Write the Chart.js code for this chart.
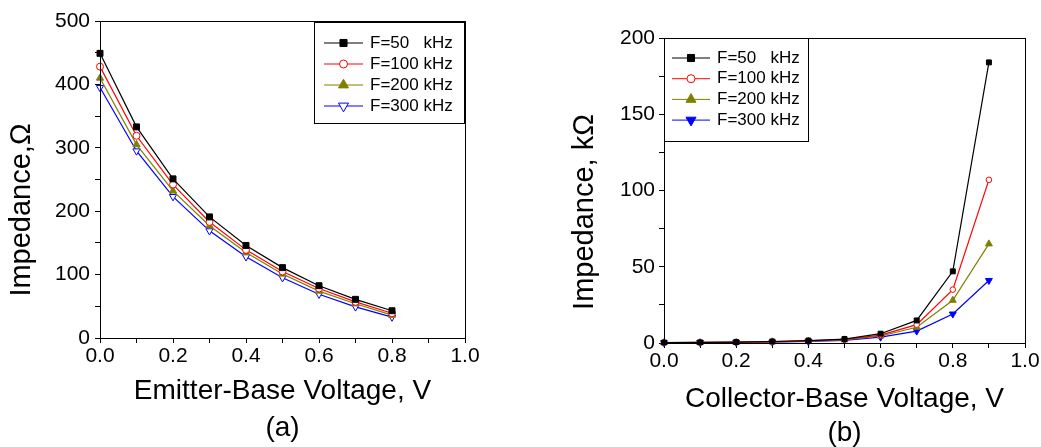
<!DOCTYPE html>
<html>
<head>
	<meta charset="UTF-8">
	<title>Impedance vs voltage</title>
	<script src="https://cdn.jsdelivr.net/npm/chart.js@4/dist/chart.umd.min.js"></script>
	<style>
		body {
			margin:0;
			padding:0;
			overflow: hidden;
			background:#fff;
		}
		canvas {
			position:absolute;
			top:0;
		}
	</style>
</head>
<body>
	<canvas id="chartA" width="520" height="450" style="left:0px"></canvas>
	<canvas id="chartB" width="521" height="451" style="left:520px"></canvas>
	<script>
		// (a) emitter-base voltage, impedance in ohm
		const voltsA = [0, 0.1, 0.2, 0.3, 0.4, 0.5, 0.6, 0.7, 0.8];
		const zA50  = [449, 333, 251, 191, 146, 111, 82.5, 61, 43];
		const zA100 = [428, 319, 242, 183, 139, 105, 78, 57, 39];
		const zA200 = [410, 305, 232, 177, 135, 101, 74, 54, 36];
		const zA300 = [395, 295, 223, 169, 128, 95, 69, 49, 33];

		// (b) collector-base voltage, impedance in kohm
		const voltsB = [0, 0.1, 0.2, 0.3, 0.4, 0.5, 0.6, 0.7, 0.8, 0.9];
		const zB50  = [0.3, 0.4, 0.6, 1.0, 1.6, 2.6, 6.1, 14.8, 47, 184];
		const zB100 = [0.3, 0.4, 0.5, 0.9, 1.4, 2.3, 5.2, 12, 35, 107];
		const zB200 = [0.3, 0.3, 0.5, 0.8, 1.3, 2.1, 4.6, 10.3, 28, 65];
		const zB300 = [0.2, 0.3, 0.4, 0.6, 1.0, 1.7, 3.8, 7.8, 19, 41];

		const seriesNames = ['F=50   kHz', 'F=100 kHz', 'F=200 kHz', 'F=300 kHz'];

		const FONT = "'Liberation Sans', Arial, sans-serif";

		function pts(xs, ys){
			return xs.map((x, i) => ({x: x, y: ys[i]}));
		}

		function marker(ctx, style, rot, r, x, y, fill, stroke){
			ctx.save();
			ctx.fillStyle = fill;
			ctx.strokeStyle = stroke;
			ctx.lineWidth = 1;
			ctx.beginPath();
			if(style === 'rect'){
				const s = Math.SQRT1_2 * r;
				ctx.rect(x - s, y - s, 2*s, 2*s);
			} else if(style === 'circle'){
				ctx.arc(x, y, r, 0, Math.PI*2);
			} else {
				let a = rot * Math.PI / 180;
				ctx.moveTo(x + Math.sin(a)*r, y - Math.cos(a)*r);
				for(let k=0;k<2;k++){
					a += Math.PI*2/3;
					ctx.lineTo(x + Math.sin(a)*r, y - Math.cos(a)*r);
				}
				ctx.closePath();
			}
			ctx.fill();
			ctx.stroke();
			ctx.restore();
		}

		// frame around plot, rotated y title, boxed legend inside plot
		const extras = {
			id:'extras',
			afterDraw(chart, args, o){
				const ctx = chart.ctx;
				const a = chart.chartArea;
				ctx.save();
				ctx.strokeStyle = '#000';
				ctx.lineWidth = 1;
				ctx.strokeRect(Math.round(a.left)+0.5, Math.round(a.top)+0.5, Math.round(a.right-a.left), Math.round(a.bottom-a.top));

				ctx.translate(o.yTitleX, o.yTitleY);
				ctx.rotate(-Math.PI/2);
				ctx.font = '29px ' + FONT;
				ctx.fillStyle = '#000';
				ctx.textAlign = 'center';
				ctx.textBaseline = 'middle';
				ctx.fillText(o.yTitle, 0, 0);
				ctx.restore();

				const L = o.legend;
				ctx.save();
				ctx.fillStyle = '#fff';
				ctx.fillRect(L.x, L.y, L.w, L.h);
				ctx.strokeStyle = '#000';
				ctx.lineWidth = 1;
				ctx.strokeRect(L.x+0.5, L.y+0.5, L.w, L.h);
				ctx.font = '17px ' + FONT;
				ctx.textBaseline = 'middle';
				ctx.textAlign = 'left';
				chart.data.datasets.forEach((ds, i) => {
					const y = L.row0 + i*L.step;
					ctx.strokeStyle = ds.borderColor;
					ctx.lineWidth = 1;
					ctx.beginPath();
					ctx.moveTo(L.x0, y);
					ctx.lineTo(L.x1, y);
					ctx.stroke();
					const r = L.radius[i];
					marker(ctx, ds.pointStyle, ds.pointRotation || 0, r, (L.x0+L.x1)/2, y, ds.pointBackgroundColor, ds.pointBorderColor);
					ctx.fillStyle = '#000';
					ctx.fillText(ds.label, L.tx, y);
				});
				ctx.restore();
			}
		};

		function makeChart(id, xs, ys, styles, cfg){
			const colors = ['#000000', '#ff0000', '#808000', '#0000ff'];
			const datasets = ys.map((s, i) => ({
				label: seriesNames[i],
				data: pts(xs, s),
				borderColor: colors[i],
				borderWidth: 1.2,
				fill: false,
				tension: 0,
				clip: false,
				pointStyle: styles[i].style,
				pointRotation: styles[i].rot || 0,
				pointRadius: styles[i].r,
				pointBackgroundColor: styles[i].filled ? colors[i] : '#ffffff',
				pointBorderColor: colors[i],
				pointBorderWidth: 1
			}));
			const tickFont = {family: FONT, size: 21};
			new Chart(document.getElementById(id).getContext('2d'), {
				type: 'line',
				data: {datasets: datasets},
				options: {
					responsive: false,
					animation: false,
					layout: {padding: cfg.padding},
					plugins: {
						legend: {display: false},
						tooltip: {enabled: false},
						extras: cfg.extras
					},
					scales: {
						x: {
							type: 'linear',
							min: 0, max: 1,
							ticks: {
								stepSize: 0.1, autoSkip: false, maxRotation: 0,
								padding: 1, color: '#000', font: tickFont,
								callback: v => Math.round(v*10) % 2 === 0 ? v.toFixed(1) : ''
							},
							grid: {drawOnChartArea: false, drawTicks: true, tickLength: 5, color: '#000'},
							border: {color: '#000', width: 1},
							title: {
								display: true, text: cfg.xTitle, color: '#000',
								font: {family: FONT, size: 28, lineHeight: cfg.titleLH},
								padding: {top: 0, bottom: cfg.titlePad}
							},
							afterFit: s => { s.height = cfg.xHeight; }
						},
						y: {
							min: 0, max: cfg.yMax,
							ticks: {
								stepSize: cfg.yStep / 2, padding: cfg.yPad, color: '#000', font: tickFont,
								callback: v => v % cfg.yStep === 0 ? v : ''
							},
							grid: {drawOnChartArea: false, drawTicks: true, tickLength: 5, color: '#000'},
							border: {color: '#000', width: 1},
							afterFit: s => { s.width = cfg.yWidth; }
						}
					}
				},
				plugins: [extras]
			});
		}

		makeChart('chartA', voltsA, [zA50, zA100, zA200, zA300], [
			{style: 'rect', r: 4.2, filled: true},
			{style: 'circle', r: 3.5, filled: false},
			{style: 'triangle', r: 4.2, filled: true},
			{style: 'triangle', rot: 180, r: 4.2, filled: false}
		], {
			padding: {left: 0, right: 55, top: 21, bottom: 0},
			xHeight: 112, yWidth: 100, yMax: 500, yStep: 100, yPad: 5,
			xTitle: ['Emitter-Base Voltage, V', '(a)'], titleLH: 1.3, titlePad: 4,
			extras: {
				yTitle: 'Impedance,\u03A9', yTitleX: 22, yTitleY: 210,
				legend: {x: 314, y: 22, w: 150, h: 101, row0: 43, step: 21, x0: 324, x1: 363, tx: 370, radius: [5, 4, 5.8, 5.8]}
			}
		});

		makeChart('chartB', voltsB, [zB50, zB100, zB200, zB300], [
			{style: 'rect', r: 3.5, filled: true},
			{style: 'circle', r: 2.8, filled: false},
			{style: 'triangle', r: 4, filled: true},
			{style: 'triangle', rot: 180, r: 4, filled: true}
		], {
			padding: {left: 0, right: 16, top: 38, bottom: 0},
			xHeight: 108, yWidth: 144, yMax: 200, yStep: 50, yPad: 4,
			xTitle: ['Collector-Base Voltage, V', '(b)'], titleLH: 1.2, titlePad: 1,
			extras: {
				yTitle: 'Impedance, k\u03A9', yTitleX: 65, yTitleY: 212,
				legend: {x: 144, y: 38, w: 144, h: 103, row0: 58, step: 20.7, x0: 152, x1: 190, tx: 197, radius: [5, 4, 5.8, 5.8]}
			}
		});
	</script>
</body>
</html>
